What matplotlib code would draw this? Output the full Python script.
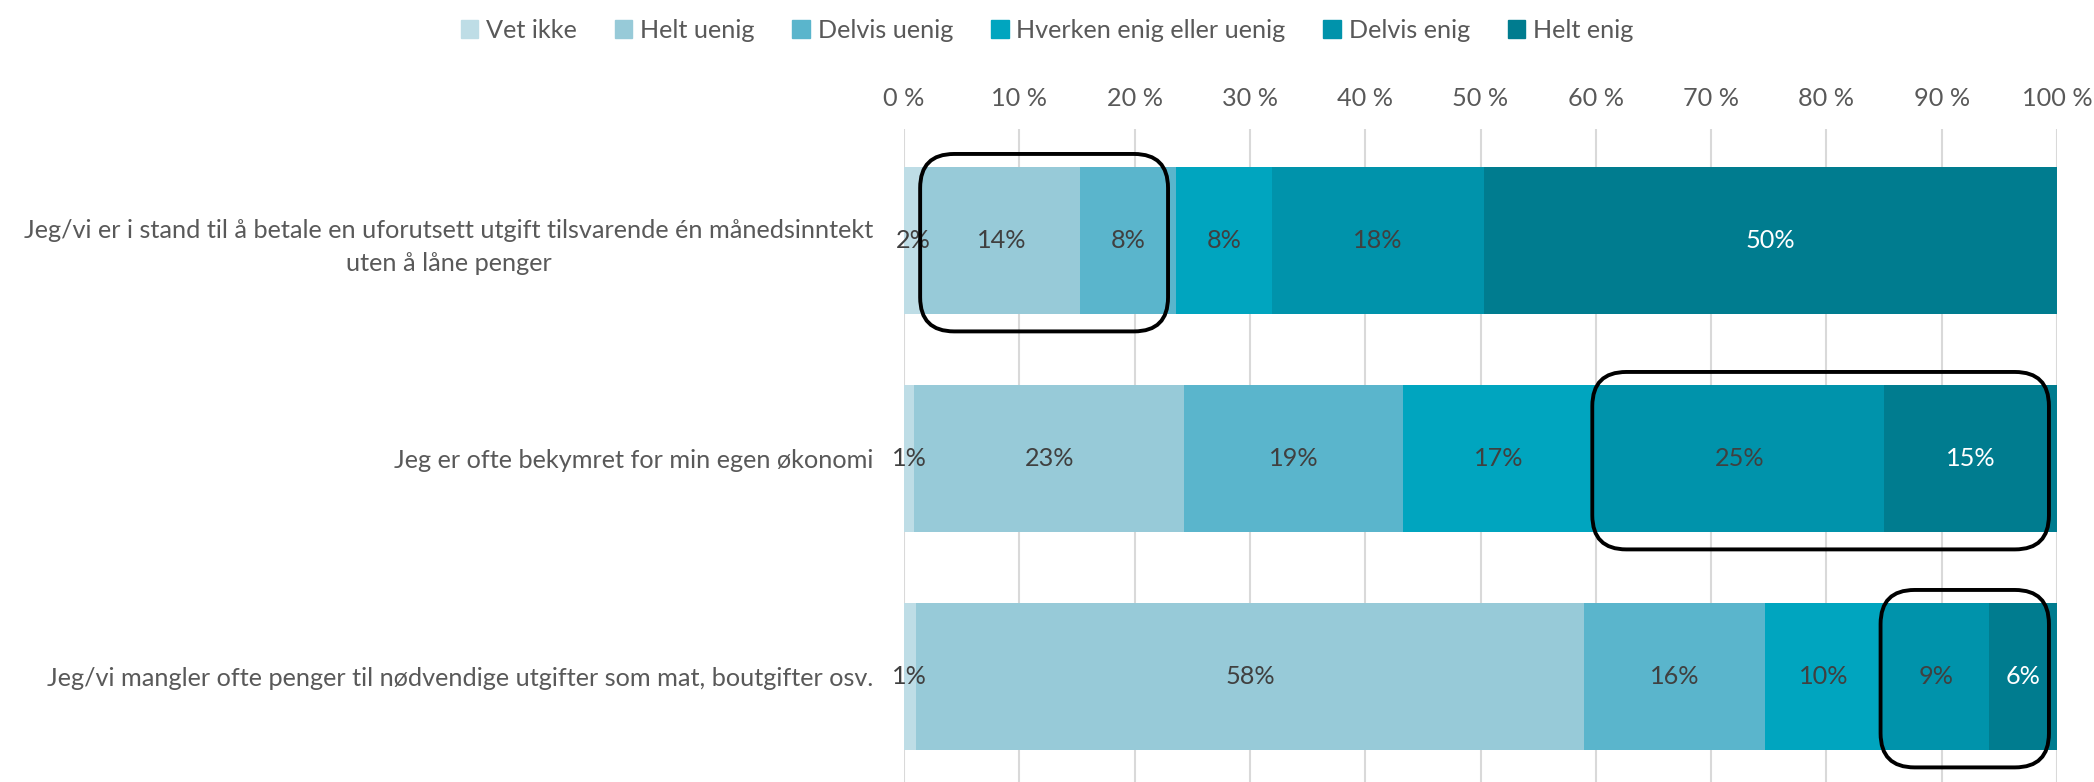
import numpy as np
import matplotlib
matplotlib.use("Agg")
import matplotlib.pyplot as plt
from matplotlib.patches import FancyBboxPatch, Patch
from matplotlib.transforms import IdentityTransform

# data (percent)
categories = [
    "Jeg/vi er i stand til å betale en uforutsett utgift tilsvarende én månedsinntekt\nuten å låne penger",
    "Jeg er ofte bekymret for min egen økonomi",
    "Jeg/vi mangler ofte penger til nødvendige utgifter som mat, boutgifter osv.",
]
series = ["Vet ikke", "Helt uenig", "Delvis uenig", "Hverken enig eller uenig", "Delvis enig", "Helt enig"]
vet_ikke = [1.6, 0.9, 1.0]
helt_uenig = [13.7, 23.4, 58.0]
delvis_uenig = [8.3, 19.0, 15.7]
hverken = [8.3, 16.6, 10.2]
delvis_enig = [18.4, 25.1, 9.2]
helt_enig = [49.7, 15.0, 5.9]
xticks = [0, 10, 20, 30, 40, 50, 60, 70, 80, 90, 100]

# highlighted boxes: (bar, first segment, last segment)
highlights = [(0, 1, 2), (1, 4, 5), (2, 4, 5)]

colors = ["#BEDDE6", "#97CAD8", "#5AB5CC", "#00A5BF", "#0093AB", "#007C8F"]
label_colors = ["#404040"] * 5 + ["white"]
grey = "#595959"

plt.rcParams['font.family'] = ['Lato', 'DejaVu Sans']
FS = 18.2

W, H = 2094, 782
fig = plt.figure(figsize=(W / 100, H / 100), dpi=100)
ax_left, ax_right, ax_top = 904, 2057, 129
ax = fig.add_axes([ax_left / W, 0, (ax_right - ax_left) / W, 1 - ax_top / H])

data = np.array([vet_ikke, helt_uenig, delvis_uenig, hverken, delvis_enig, helt_enig])
ypos = np.arange(len(categories))
bar_h = 0.674
left = np.zeros(len(categories))
for i, name in enumerate(series):
    ax.barh(ypos, data[i], left=left, height=bar_h, color=colors[i], label=name, zorder=2)
    for j in range(len(categories)):
        ax.text(left[j] + data[i][j] / 2, ypos[j], "%d%%" % round(data[i][j]),
                ha='center', va='center', fontsize=FS, color=label_colors[i], zorder=3)
    left = left + data[i]

ax.set_xlim(0, 100)
ax.set_ylim(2 + (H - 676.5) / 218, -(240.5 - ax_top) / 218)
ax.xaxis.tick_top()
ax.set_xticks(xticks)
ax.set_xticklabels(["%d %%" % t for t in xticks])
ax.tick_params(axis='x', length=0, pad=14, labelsize=FS, labelcolor=grey)
ax.set_yticks(ypos)
ax.set_yticklabels(categories)
ax.tick_params(axis='y', length=0, pad=22, labelsize=FS, labelcolor=grey)
for t in ax.get_yticklabels():
    t.set_multialignment('center')
    t.set_linespacing(1.5)
ax.grid(axis='x', color="#D9D9D9", linewidth=1.5, zorder=0)
ax.set_axisbelow(True)
for s in ax.spines.values():
    s.set_visible(False)

# rounded highlight boxes, drawn in pixel space so corners stay round
cum = np.vstack([np.zeros(len(categories)), np.cumsum(data, axis=0)])
fig.canvas.draw()
for bar, s0, s1 in highlights:
    x0 = cum[s0][bar] - 0.2
    x1 = cum[s1 + 1][bar] - 0.7
    (px0, py0) = ax.transData.transform((x0, bar + bar_h / 2 + 0.08))
    (px1, py1) = ax.transData.transform((x1, bar - bar_h / 2 - 0.06))
    box = FancyBboxPatch((px0, py0), px1 - px0, py1 - py0,
                         boxstyle="round,pad=0,rounding_size=34",
                         transform=IdentityTransform(), fill=False,
                         edgecolor='black', linewidth=2.8, zorder=5)
    fig.add_artist(box)

handles = [Patch(color=c) for c in colors]
fig.legend(handles, series, loc='upper center', bbox_to_anchor=(0.5, 1.005), ncol=6,
           frameon=False, fontsize=FS, labelcolor=grey, handlelength=0.7, handleheight=0.7,
           handletextpad=0.3, columnspacing=1.5)

fig.savefig("out.png", dpi=100)
